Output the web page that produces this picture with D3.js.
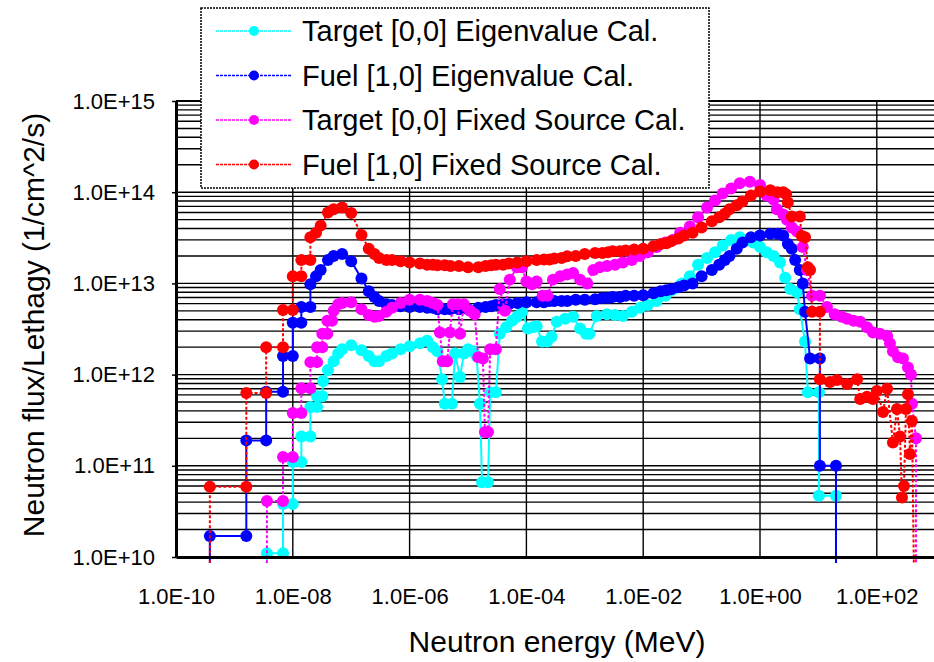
<!doctype html>
<html>
<head>
<meta charset="utf-8">
<title>Neutron flux spectrum</title>
<script src="https://d3js.org/d3.v7.min.js"></script>
<style>
  body { margin: 0; background: #fff; }
  svg text { font-family: "Liberation Sans", Arial, sans-serif; fill: #000; }
</style>
</head>
<body>
<svg id="chart" width="934" height="662"></svg>
<script>
// [energy (MeV), flux per lethargy (1/cm^2/s)]; 1e9 marks a drop to zero below the axis
const targetEigen = [
  [3.6e-9,1e9],[3.6e-9,1.1e10],[6.8e-9,1.1e10],[6.8e-9,3.8e10],[1e-8,3.8e10],[1e-8,1.1e11],[1.4e-8,1.1e11],[1.4e-8,2.1e11],
  [2e-8,2.1e11],[2e-8,4.4e11],[2.6e-8,4.4e11],[2.6e-8,5.8e11],[3.2e-8,5.8e11],
  [3.3e-8,8.5e11],[4e-8,1.12e12],[5e-8,1.4e12],[6e-8,1.7e12],[7e-8,1.9e12],
  [1e-7,2.1e12],[1.5e-7,1.85e12],[2e-7,1.6e12],[2.5e-7,1.4e12],[3e-7,1.4e12],[4e-7,1.6e12],[5e-7,1.7e12],[7e-7,1.9e12],
  [1e-6,2.05e12],[1.5e-6,2.2e12],[2e-6,2.35e12],[2.5e-6,2.0e12],[3e-6,1.8e12],
  [3.6e-6,8.9e11],[4.0e-6,4.8e11],[5.3e-6,4.8e11],[6.0e-6,1.7e12],[7.3e-6,9.4e11],[8.5e-6,1.7e12],[1.0e-5,1.9e12],[1.2e-5,1.8e12],[1.4e-5,1.6e12],
  [1.6e-5,4.8e11],[1.74e-5,6.6e10],[2.2e-5,6.6e10],[2.4e-5,6.4e11],[3.0e-5,6.4e11],[3.5e-5,2.8e12],[4.5e-5,3.3e12],[5.7e-5,3.9e12],[6.9e-5,4.3e12],[8.4e-5,4.9e12],
  [1.06e-4,3.2e12],[1.3e-4,3.3e12],[1.5e-4,3.4e12],[1.85e-4,2.3e12],[2.25e-4,2.3e12],[2.7e-4,2.6e12],[3.3e-4,3.8e12],[4.6e-4,4.1e12],[6.3e-4,4.3e12],[8.3e-4,3.2e12],
  [1.05e-3,2.8e12],[1.2e-3,2.8e12],[1.6e-3,4.4e12],[2.4e-3,4.6e12],[3.3e-3,4.5e12],[4.5e-3,4.4e12],[6.4e-3,4.9e12],[8.8e-3,5.4e12],
  [1.2e-2,5.8e12],[1.7e-2,6.4e12],[2.4e-2,7.3e12],[3.2e-2,8.5e12],[4.6e-2,1.0e13],[6.3e-2,1.2e13],[8.7e-2,1.6e13],
  [0.124,1.9e13],[0.17,2.2e13],[0.23,2.6e13],[0.32,3.0e13],[0.45,3.2e13],[0.6,3.0e13],[0.76,2.8e13],
  [1.0,2.5e13],[1.3,2.2e13],[1.7,2.0e13],[2.2,1.7e13],[2.7,1.15e13],[3.3,8.7e12],[4.3,8.0e12],[4.8,5.2e12],[5.9,2.3e12],[6.6,6.4e11],
  [10.2,6.4e11],[10.2,4.7e10],[20,4.7e10],[20,1e9]
]

const fuelEigen = [
  [3.8e-10,1e9],[3.8e-10,1.7e10],[1.6e-9,1.7e10],[1.6e-9,1.9e11],[3.5e-9,1.9e11],[3.5e-9,6.5e11],[6.8e-9,6.5e11],[6.8e-9,1.6e12],
  [1e-8,1.6e12],[1e-8,3.7e12],[1.4e-8,3.7e12],[1.4e-8,5.5e12],[2e-8,5.5e12],
  [2e-8,9.8e12],[2.5e-8,1.2e13],[3e-8,1.4e13],[4e-8,1.8e13],[5e-8,2.0e13],[7e-8,2.1e13],
  [1e-7,1.75e13],[1.5e-7,1.13e13],[2e-7,8.2e12],[2.5e-7,7.1e12],[3e-7,6.4e12],[4e-7,5.9e12],[5e-7,5.8e12],[7e-7,5.6e12],
  [1e-6,5.5e12],[1.5e-6,5.5e12],[2e-6,5.4e12],[2.5e-6,5.4e12],[3e-6,5.2e12],[4e-6,5.2e12],[5e-6,5.2e12],[7e-6,5.2e12],
  [1e-5,5.2e12],[1.5e-5,5.4e12],[2e-5,5.5e12],[2.5e-5,5.6e12],[3e-5,5.8e12],[4e-5,5.9e12],[5e-5,5.9e12],[7e-5,6.1e12],
  [1e-4,6.2e12],[1.5e-4,6.2e12],[2e-4,6.2e12],[2.5e-4,6.4e12],[3e-4,6.4e12],[4e-4,6.4e12],[5e-4,6.4e12],[7e-4,6.6e12],
  [1e-3,6.6e12],[1.5e-3,6.7e12],[2e-3,6.9e12],[2.5e-3,6.9e12],[3e-3,7.1e12],[4e-3,7.1e12],[5e-3,7.3e12],[7e-3,7.3e12],
  [1e-2,7.4e12],[1.5e-2,7.8e12],[2e-2,8.2e12],[2.5e-2,8.4e12],[3e-2,8.6e12],[4e-2,9.1e12],[5e-2,9.5e12],[7e-2,1.0e13],
  [0.1,1.2e13],[0.15,1.4e13],[0.2,1.6e13],[0.25,1.8e13],[0.3,2.0e13],[0.4,2.4e13],[0.5,2.8e13],[0.7,3.2e13],
  [1,3.35e13],[1.5,3.5e13],[2,3.5e13],[2.5,3.35e13],[3.0,2.7e13],[3.5,2.4e13],[4.0,1.8e13],[4.8,1.4e13],[5.4,1.0e13],[5.9,4.9e12],
  [7.2,1.5e12],[10.6,1.5e12],[10.6,1.0e11],[20,1.0e11],[20,1e9]
]

const targetFixed = [
  [3.6e-9,1e9],[3.6e-9,4.1e10],[6.8e-9,4.1e10],[6.8e-9,1.25e11],[1e-8,1.25e11],[1e-8,3.8e11],[1.4e-8,3.8e11],[1.4e-8,7.1e11],
  [2e-8,7.1e11],[2e-8,1.37e12],[2.6e-8,1.37e12],[2.6e-8,2.0e12],[3.2e-8,2.0e12],[3.2e-8,2.8e12],[3.9e-8,2.8e12],[3.9e-8,3.9e12],[4.7e-8,3.9e12],
  [5e-8,5.0e12],[6e-8,5.9e12],[7e-8,6.1e12],
  [1e-7,6.2e12],[1.5e-7,5.2e12],[2e-7,4.5e12],[2.5e-7,4.3e12],[3e-7,4.4e12],[4e-7,4.9e12],[5e-7,5.4e12],[7e-7,6.1e12],
  [1e-6,6.6e12],[1.5e-6,6.6e12],[2e-6,6.4e12],[2.5e-6,6.1e12],[3e-6,5.8e12],
  [3.3e-6,2.9e12],[3.7e-6,1.4e12],[4.4e-6,1.4e12],[4.9e-6,2.9e12],[5.5e-6,5.9e12],[6.7e-6,5.9e12],[7.3e-6,2.8e12],[8.5e-6,5.9e12],
  [1.08e-5,5.0e12],[1.3e-5,4.6e12],[1.5e-5,1.55e12],[1.8e-5,1.5e12],[1.95e-5,2.35e11],[2.2e-5,2.35e11],[2.4e-5,1.9e12],[3.0e-5,1.9e12],
  [3.5e-5,8.7e12],[4.3e-5,5.0e12],[5.2e-5,1.1e13],[6.9e-5,1.5e13],[8.4e-5,1.5e13],
  [1.0e-4,1.05e13],[1.25e-4,9.8e12],[1.5e-4,1.05e13],[1.9e-4,7.3e12],[2.3e-4,7.3e12],[2.85e-4,1.1e13],[3.8e-4,1.2e13],[5.0e-4,1.25e13],[6.3e-4,1.3e13],[8.3e-4,1.1e13],
  [1.1e-3,1.0e13],[1.4e-3,1.4e13],[1.8e-3,1.5e13],[2.4e-3,1.55e13],[3.3e-3,1.6e13],[4.5e-3,1.7e13],[6.4e-3,1.8e13],[8.8e-3,2.0e13],
  [1.2e-2,2.2e13],[1.7e-2,2.5e13],[2.4e-2,2.8e13],[3.2e-2,3.0e13],[4.3e-2,3.6e13],[6.3e-2,4.2e13],[8.7e-2,5.3e13],
  [0.124,6.8e13],[0.17,8.1e13],[0.23,9.7e13],[0.32,1.1e14],[0.45,1.25e14],[0.67,1.3e14],
  [1.0,1.2e14],[1.3,9.2e13],[1.7,8.3e13],[1.95,6.5e13],[2.5,5.7e13],[2.9,5.0e13],[3.5,4.1e13],[4.3,3.7e13],[5.4,2.5e13],[6.4,1.4e13],
  [7.8,7.3e12],[10.6,7.3e12],[14,5.5e12],[19,4.6e12],[25,4.3e12],[31,4.1e12],[40,3.9e12],[52,3.8e12],[68,3.3e12],[86,2.9e12],[113,2.8e12],[150,2.65e12],
  [168,2.2e12],[189,1.8e12],[231,1.55e12],[281,1.5e12],[342,1.2e12],[385,1.0e12],[400,4.8e11],[469,2.0e11],[469,1e9]
]

const fuelFixed = [
  [3.8e-10,1e9],[3.8e-10,5.9e10],[1.6e-9,5.9e10],[1.6e-9,6.3e11],[3.5e-9,6.3e11],[3.5e-9,2.0e12],
  [6.8e-9,2.0e12],[6.8e-9,5.1e12],[1e-8,5.1e12],[1e-8,1.2e13],[1.4e-8,1.2e13],[1.4e-8,1.8e13],[2e-8,1.8e13],
  [2e-8,3.2e13],[2.5e-8,3.6e13],[3e-8,4.3e13],[4e-8,6.0e13],[5e-8,6.5e13],[7e-8,6.8e13],
  [1e-7,5.9e13],[1.5e-7,3.4e13],[2e-7,2.4e13],[2.5e-7,2.1e13],[3e-7,1.9e13],[4e-7,1.8e13],[5e-7,1.8e13],[7e-7,1.75e13],
  [1e-6,1.7e13],[1.5e-6,1.65e13],[2e-6,1.6e13],[2.5e-6,1.6e13],[3e-6,1.58e13],[4e-6,1.58e13],[5e-6,1.55e13],[7e-6,1.55e13],
  [1e-5,1.5e13],[1.5e-5,1.5e13],[2e-5,1.55e13],[2.5e-5,1.58e13],[3e-5,1.6e13],[4e-5,1.6e13],[5e-5,1.65e13],[7e-5,1.7e13],
  [1e-4,1.75e13],[1.5e-4,1.8e13],[2e-4,1.83e13],[2.5e-4,1.83e13],[3e-4,1.88e13],[4e-4,1.9e13],[5e-4,1.98e13],[7e-4,2.0e13],
  [1e-3,2.1e13],[1.5e-3,2.15e13],[2e-3,2.15e13],[2.5e-3,2.2e13],[3e-3,2.25e13],[4e-3,2.25e13],[5e-3,2.3e13],[7e-3,2.35e13],
  [1e-2,2.4e13],[1.5e-2,2.55e13],[2e-2,2.7e13],[2.5e-2,2.75e13],[3e-2,2.9e13],[4e-2,3.1e13],[5e-2,3.35e13],[7e-2,3.6e13],
  [0.1,4.1e13],[0.15,4.8e13],[0.2,5.3e13],[0.25,5.8e13],[0.3,6.5e13],[0.4,7.2e13],[0.5,7.9e13],[0.7,9.2e13],
  [1,1.02e14],[1.5,1.05e14],[2,1.0e14],[2.5,1.0e14],[2.8,9.5e13],[3.0,7.7e13],[3.5,5.4e13],[4.8,5.4e13],[5.2,3.3e13],[5.9,3.2e13],
  [6.6,1.5e13],[7.2,1.4e13],[7.8,4.9e12],[10.6,4.9e12],[10.6,8.9e11],
  [15.8,8.3e11],[20.8,8.7e11],[31,7.9e11],[46,8.9e11],[52,5.4e11],[68,5.7e11],[86,5.4e11],[100,6.6e11],[128,3.9e11],[150,7.0e11],
  [189,1.8e11],[222,4.2e11],[250,2.1e11],[270,4.5e10],[292,6.0e10],[316,4.2e11],[342,6.1e11],[370,1.35e11],[400,3.1e11],[450,1e9]
]

const seriesNames = [
  'Target [0,0] Eigenvalue Cal.',
  'Fuel [1,0] Eigenvalue Cal.',
  'Target [0,0] Fixed Source Cal.',
  'Fuel [1,0] Fixed Source Cal.'
]
const seriesColors = ['#00ffff', '#0000ff', '#ff00ff', '#ff0000']
const seriesDash = [null, null, '3,2', '3,2']

const xTickValues = [1e-10, 1e-8, 1e-6, 1e-4, 1e-2, 1e0, 1e2]
const xTickLabels = ['1.0E-10', '1.0E-08', '1.0E-06', '1.0E-04', '1.0E-02', '1.0E+00', '1.0E+02']
const yTickValues = [1e10, 1e11, 1e12, 1e13, 1e14, 1e15]
const yTickLabels = ['1.0E+10', '1.0E+11', '1.0E+12', '1.0E+13', '1.0E+14', '1.0E+15']

const plotLeft = 176, plotRight = 935.2, plotTop = 101, plotBottom = 557

const svg = d3.select('#chart')
const x = d3.scaleLog().domain([1e-10, 1e3]).range([plotLeft, plotRight])
const y = d3.scaleLog().domain([1e10, 1e15]).range([plotBottom, plotTop])

// grid: every minor decade step across, every second decade down
svg.append('g').selectAll('line').data(y.ticks()).join('line')
   .attr('x1', plotLeft).attr('x2', plotRight)
   .attr('y1', d => y(d)).attr('y2', d => y(d))
   .attr('stroke', '#000').attr('stroke-width', 1.4)

svg.append('g').selectAll('line').data(xTickValues.slice(1)).join('line')
   .attr('x1', d => x(d)).attr('x2', d => x(d))
   .attr('y1', plotTop).attr('y2', plotBottom)
   .attr('stroke', '#000').attr('stroke-width', 1.4)

svg.append('line')
   .attr('x1', plotLeft).attr('x2', plotRight).attr('y1', plotTop).attr('y2', plotTop)
   .attr('stroke', '#000').attr('stroke-width', 2)

// data
svg.append('clipPath').attr('id', 'clip')
   .append('rect').attr('x', plotLeft).attr('y', plotTop - 3)
   .attr('width', plotRight - plotLeft).attr('height', plotBottom - plotTop + 9)

const line = d3.line().x(d => x(d[0])).y(d => y(d[1]))
const plot = svg.append('g').attr('clip-path', 'url(#clip)')

;[targetEigen, fuelEigen, targetFixed, fuelFixed].forEach((data, i) => {
    const g = plot.append('g')
    g.append('path').datum(data)
     .attr('d', line)
     .attr('fill', 'none')
     .attr('stroke', seriesColors[i])
     .attr('stroke-width', 2)
     .attr('stroke-dasharray', seriesDash[i])
    g.selectAll('circle').data(data).join('circle')
     .attr('cx', d => x(d[0]))
     .attr('cy', d => y(d[1]))
     .attr('r', 6)
     .attr('fill', seriesColors[i])
})

// axes
const yAxis = svg.append('g').attr('transform', `translate(${plotLeft},0)`)
   .call(d3.axisLeft(y).tickValues(yTickValues).tickFormat((d, i) => yTickLabels[i])
          .tickSize(4).tickSizeOuter(0).tickPadding(17))
yAxis.select('.domain').attr('stroke-width', 3)
yAxis.selectAll('line').attr('stroke-width', 1.5)
yAxis.selectAll('text').attr('font-size', 22)

const xAxis = svg.append('g').attr('transform', `translate(0,${plotBottom})`)
   .call(d3.axisBottom(x).tickValues(xTickValues).tickFormat((d, i) => xTickLabels[i])
          .tickSize(0).tickSizeOuter(0).tickPadding(31))
xAxis.select('.domain').attr('stroke-width', 3)
xAxis.selectAll('text').attr('font-size', 22)

svg.append('text')
   .attr('x', 557).attr('y', 652)
   .attr('text-anchor', 'middle')
   .attr('font-size', 30)
   .text('Neutron energy (MeV)')

svg.append('text')
   .attr('transform', 'translate(44,325) rotate(-90)')
   .attr('text-anchor', 'middle')
   .attr('font-size', 30)
   .text('Neutron flux/Lethagy (1/cm^2/s)')

// legend
const legend = svg.append('g')
legend.append('rect')
      .attr('x', 201).attr('y', 8).attr('width', 508).attr('height', 180)
      .attr('fill', '#fff').attr('stroke', '#000')
      .attr('stroke-width', 1.5).attr('stroke-dasharray', '2,1')

seriesNames.forEach((name, i) => {
    const cy = 31 + i * 44.5
    legend.append('line')
          .attr('x1', 216).attr('x2', 292).attr('y1', cy).attr('y2', cy)
          .attr('stroke', seriesColors[i]).attr('stroke-width', 1.5)
          .attr('stroke-dasharray', '3,1')
    legend.append('circle').attr('cx', 254).attr('cy', cy).attr('r', 5).attr('fill', seriesColors[i])
    legend.append('text')
          .attr('x', 302).attr('y', cy + 10)
          .attr('font-size', 29)
          .text(name)
})
</script>
</body>
</html>
